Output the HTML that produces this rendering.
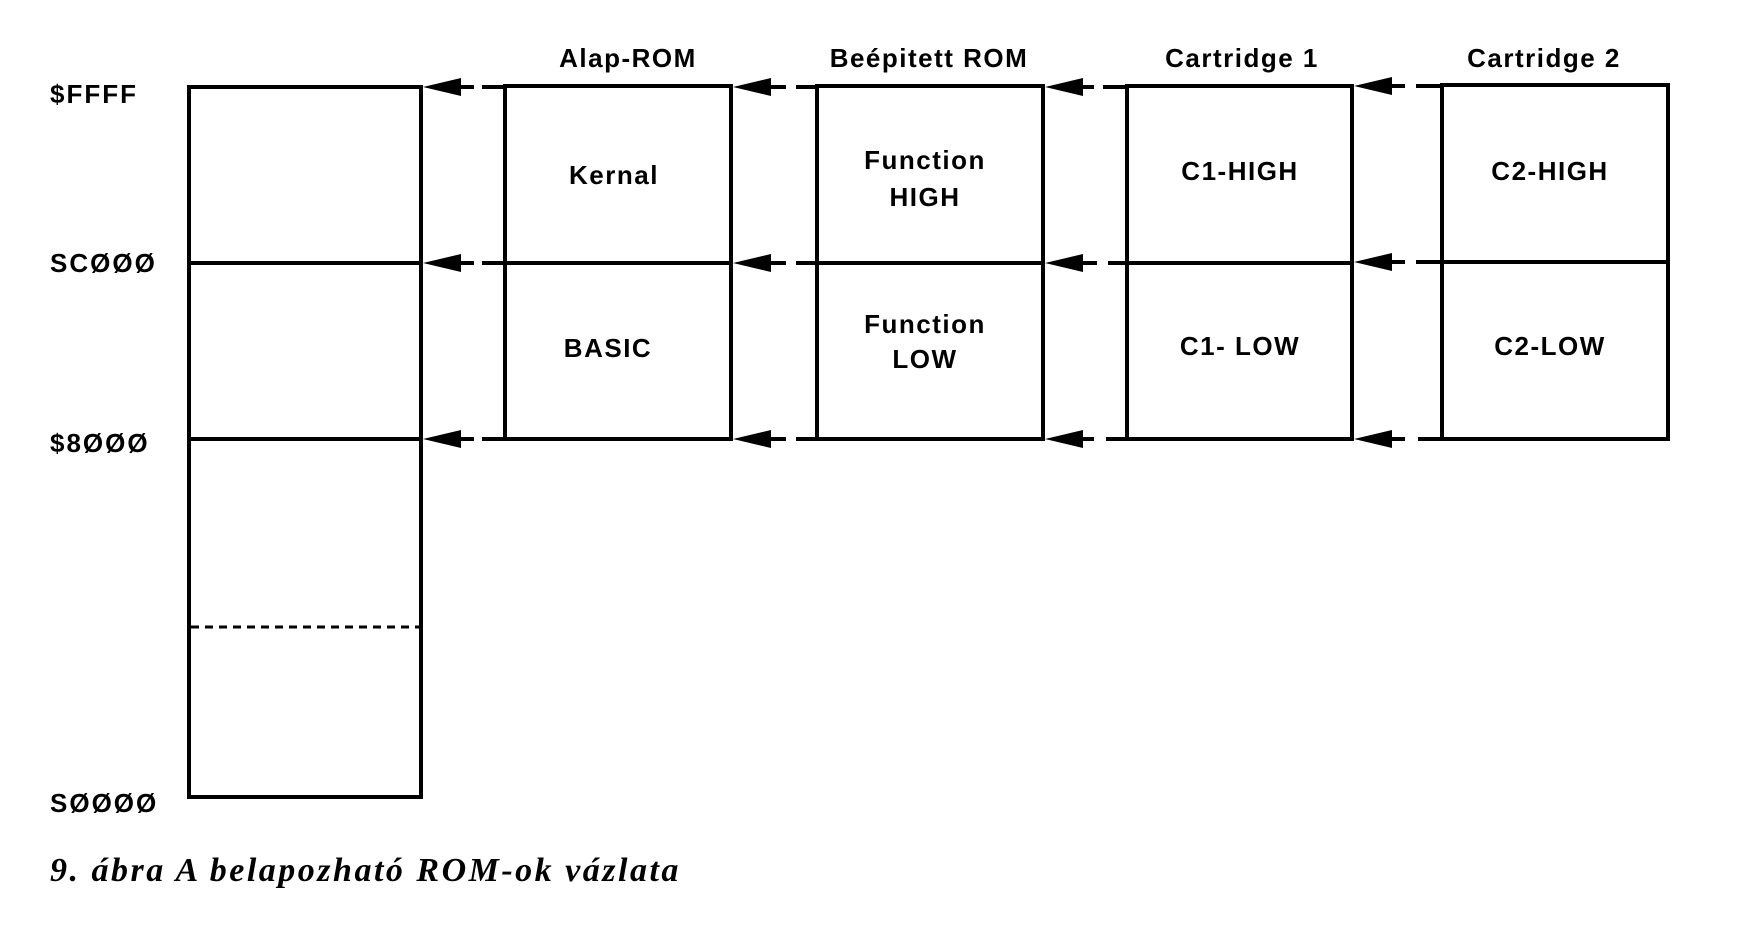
<!DOCTYPE html>
<html><head><meta charset="utf-8"><style>
html,body{margin:0;padding:0;background:#fff;}
svg{display:block;}
text{font-family:"Liberation Sans","DejaVu Sans",sans-serif;font-weight:bold;fill:#000;}
</style></head><body>
<svg width="1739" height="927" viewBox="0 0 1739 927" xmlns="http://www.w3.org/2000/svg">
<g stroke="#000" stroke-width="4" fill="none">
<rect x="189" y="87" width="232" height="710"/>
<line x1="189" y1="263" x2="421" y2="263"/>
<line x1="189" y1="439" x2="421" y2="439"/>
<line x1="191" y1="627" x2="419" y2="627" stroke-width="3" stroke-dasharray="8,6"/>
<rect x="505" y="86" width="226" height="353"/>
<line x1="505" y1="263" x2="731" y2="263"/>
<rect x="817" y="86" width="226" height="353"/>
<line x1="817" y1="263" x2="1043" y2="263"/>
<rect x="1127" y="86" width="225" height="353"/>
<line x1="1127" y1="263" x2="1352" y2="263"/>
<rect x="1442" y="85" width="226" height="354"/>
<line x1="1442" y1="262" x2="1668" y2="262"/>
<g stroke-width="4">
<line x1="459" y1="87" x2="474" y2="87"/><line x1="482" y1="87" x2="505" y2="87"/>
<line x1="459" y1="263" x2="474" y2="263"/><line x1="482" y1="263" x2="505" y2="263"/>
<line x1="459" y1="439" x2="474" y2="439"/><line x1="482" y1="439" x2="505" y2="439"/>
<line x1="771" y1="87" x2="786" y2="87"/><line x1="796" y1="87" x2="817" y2="87"/>
<line x1="771" y1="263" x2="786" y2="263"/><line x1="796" y1="263" x2="817" y2="263"/>
<line x1="771" y1="439" x2="786" y2="439"/><line x1="796" y1="439" x2="817" y2="439"/>
<line x1="1082" y1="87" x2="1094" y2="87"/><line x1="1103" y1="87" x2="1127" y2="87"/>
<line x1="1082" y1="263" x2="1097" y2="263"/><line x1="1108" y1="263" x2="1127" y2="263"/>
<line x1="1082" y1="439" x2="1094" y2="439"/><line x1="1106" y1="439" x2="1127" y2="439"/>
<line x1="1390" y1="86" x2="1405" y2="86"/><line x1="1416" y1="86" x2="1442" y2="86"/>
<line x1="1390" y1="262" x2="1405" y2="262"/><line x1="1416" y1="262" x2="1442" y2="262"/>
<line x1="1390" y1="439" x2="1405" y2="439"/><line x1="1418" y1="439" x2="1442" y2="439"/>
</g>
</g>
<g fill="#000">
<polygon points="423,87 461,78 461,96"/>
<polygon points="423,263 461,254 461,272"/>
<polygon points="423,439 461,430 461,448"/>
<polygon points="733,87 771,78 771,96"/>
<polygon points="733,263 771,254 771,272"/>
<polygon points="733,439 771,430 771,448"/>
<polygon points="1045,87 1083,78 1083,96"/>
<polygon points="1045,263 1083,254 1083,272"/>
<polygon points="1045,439 1083,430 1083,448"/>
<polygon points="1354,86 1392,77 1392,95"/>
<polygon points="1354,262 1392,253 1392,271"/>
<polygon points="1354,439 1392,430 1392,448"/>
</g>
<g font-size="26" letter-spacing="2">
<text x="50" y="103">$FFFF</text>
<text x="50" y="272">SCØØØ</text>
<text x="50" y="452">$8ØØØ</text>
<text x="50" y="812">SØØØØ</text>
</g>
<g font-size="26" letter-spacing="1.5" text-anchor="middle">
<text x="628" y="67">Alap-ROM</text>
<text x="929" y="67">Beépitett ROM</text>
<text x="1242" y="67">Cartridge 1</text>
<text x="1544" y="67">Cartridge 2</text>
<text x="614" y="184">Kernal</text>
<text x="608" y="357">BASIC</text>
<text x="925" y="169">Function</text>
<text x="925" y="206">HIGH</text>
<text x="925" y="333">Function</text>
<text x="925" y="368">LOW</text>
<text x="1240" y="180">C1-HIGH</text>
<text x="1240" y="355">C1- LOW</text>
<text x="1550" y="180">C2-HIGH</text>
<text x="1550" y="355">C2-LOW</text>
</g>
<text x="50" y="881" font-style="italic" font-weight="bold" font-size="34" letter-spacing="2.5" style="font-family:'Liberation Serif',serif">9. ábra A belapozható ROM-ok vázlata</text>
</svg>
</body></html>
